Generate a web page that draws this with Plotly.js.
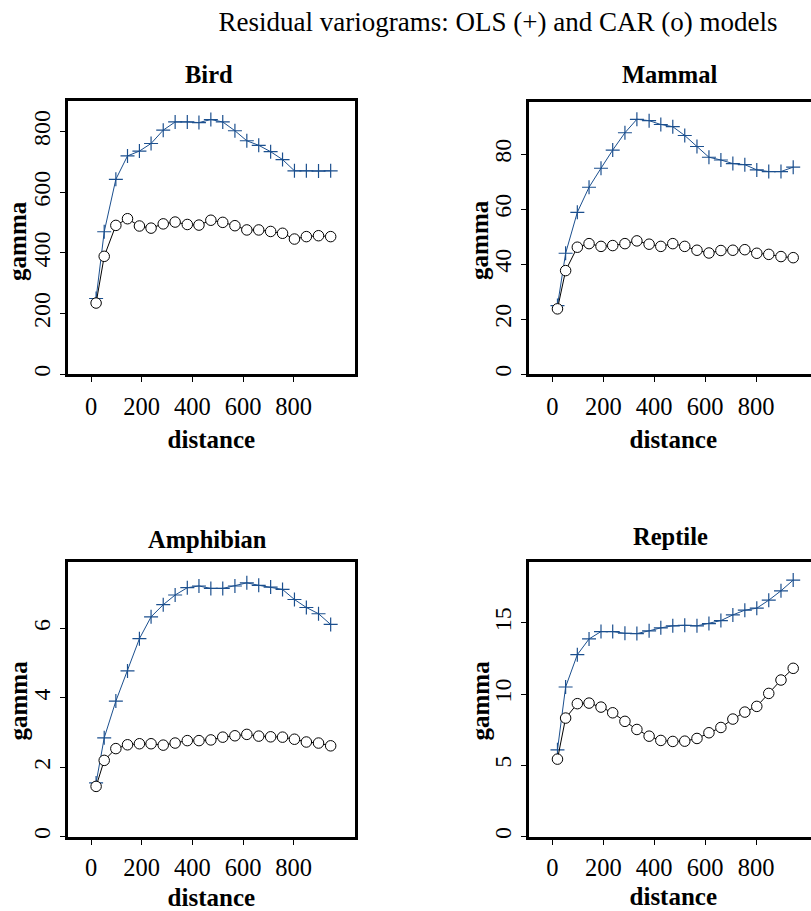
<!DOCTYPE html>
<html>
<head>
<meta charset="utf-8">
<script src="https://cdn.plot.ly/plotly-3.0.1.min.js"></script>
<style>
html,body{margin:0;padding:0;overflow:hidden;background:#fff;}
#chart{width:830px;height:911px;}
</style>
</head>
<body>
<div id="chart"></div>
<script>
// distance bins
const distance = [20, 52, 98, 144, 191, 237, 285, 332, 380, 426, 473, 520, 568, 615, 662, 709, 756, 803, 850, 898, 946];

const birdOLS = [250, 470, 643, 720, 736, 761, 805, 832, 832, 830, 840, 832, 803, 770, 755, 734, 708, 671, 671, 670, 671];
const birdCAR = [235, 389, 491, 513, 489, 482, 496, 502, 494, 492, 508, 501, 490, 476, 476, 471, 465, 446, 454, 457, 454];

const mammalOLS = [25, 44, 58.9, 68, 74.9, 81.5, 87.8, 92.7, 92.2, 90.8, 90, 86.8, 82.8, 78.9, 77.9, 76.6, 76.2, 74.3, 73.7, 73.7, 75.3];
const mammalCAR = [23.8, 37.7, 46.2, 47.5, 46.5, 46.8, 47.5, 48.5, 47.3, 46.5, 47.5, 46.5, 45.1, 44.1, 45, 45.1, 45.3, 44, 43.6, 42.8, 42.4];

const amphibianOLS = [1.55, 2.85, 3.91, 4.78, 5.71, 6.34, 6.69, 6.97, 7.18, 7.23, 7.16, 7.16, 7.23, 7.32, 7.25, 7.2, 7.13, 6.84, 6.61, 6.43, 6.12];
const amphibianCAR = [1.45, 2.2, 2.54, 2.65, 2.68, 2.68, 2.64, 2.7, 2.77, 2.77, 2.79, 2.87, 2.91, 2.95, 2.9, 2.88, 2.87, 2.81, 2.73, 2.7, 2.62];

const reptileOLS = [6.09, 10.5, 12.77, 13.87, 14.39, 14.39, 14.27, 14.25, 14.44, 14.65, 14.79, 14.83, 14.79, 14.95, 15.16, 15.56, 15.89, 16.03, 16.59, 17.25, 18.0];
const reptileCAR = [5.44, 8.32, 9.33, 9.37, 9.09, 8.69, 8.09, 7.52, 7.05, 6.75, 6.68, 6.7, 6.89, 7.29, 7.66, 8.25, 8.74, 9.14, 10.05, 10.99, 11.81];

const panelTitles = ["Bird", "Mammal", "Amphibian", "Reptile"];
const xTitle = "distance";
const yTitle = "gamma";
const xTicks = [0, 200, 400, 600, 800];
const yTicksBird = [0, 200, 400, 600, 800];
const yTicksMammal = [0, 20, 40, 60, 80];
const yTicksAmphibian = [0, 2, 4, 6];
const yTicksReptile = [0, 5, 10, 15];

const FONT = "Liberation Serif, Times New Roman, serif";
const BLUE = "#1b4f8e";

const panels = [
  {ols: birdOLS, car: birdCAR, yt: yTicksBird, yr: [0, 901], xd: [0.0816, 0.4277], yd: [0.5891, 0.8891], tls: 3, ts: 12},
  {ols: mammalOLS, car: mammalCAR, yt: yTicksMammal, yr: [0, 99.1], xd: [0.6373, 0.9851], yd: [0.5891, 0.8884], tls: 3, ts: 12},
  {ols: amphibianOLS, car: amphibianCAR, yt: yTicksAmphibian, yr: [0, 7.93], xd: [0.0816, 0.4277], yd: [0.0816, 0.3834], tls: 2, ts: 10},
  {ols: reptileOLS, car: reptileCAR, yt: yTicksReptile, yr: [0, 19.27], xd: [0.6373, 0.9851], yd: [0.0816, 0.3831], tls: 2, ts: 8}
];

const data = [];
const layout = {
  width: 830, height: 911,
  margin: {l: 0, r: 0, t: 0, b: 0},
  paper_bgcolor: "#fff", plot_bgcolor: "#fff",
  showlegend: false,
  font: {family: FONT, size: 24, color: "#000"},
  title: {text: "Residual variograms: OLS (+) and CAR (o) models", x: 0.6, xanchor: "center", y: 0.9758, yanchor: "middle", yref: "paper",
          font: {family: FONT, size: 27, color: "#000"}},
  annotations: []
};

const titleX = [0.2518, 0.8072, 0.2506, 0.8081];
const titleY = [0.9177, 0.9177, 0.4073, 0.4109];
const gammaX = [0.0217, 0.5783, 0.0217, 0.5783];
const gammaY = [0.7356, 0.7366, 0.2311, 0.2311];

panels.forEach((p, i) => {
  const n = i + 1;
  const xa = "x" + (n === 1 ? "" : n), ya = "y" + (n === 1 ? "" : n);
  data.push({x: distance, y: p.ols, xaxis: xa, yaxis: ya, type: "scatter", mode: "lines+markers",
    line: {color: BLUE, width: 1}, marker: {symbol: "cross-thin-open", size: 10, color: BLUE, line: {color: BLUE, width: 1.2}},
    name: "OLS"});
  data.push({x: distance, y: p.car, xaxis: xa, yaxis: ya, type: "scatter", mode: "lines+markers",
    line: {color: "#000", width: 1}, marker: {symbol: "circle", size: 10.5, color: "#fff", line: {color: "#000", width: 1}},
    name: "CAR"});
  const xk = "xaxis" + (n === 1 ? "" : n), yk = "yaxis" + (n === 1 ? "" : n);
  layout[xk] = {domain: p.xd, anchor: ya, range: [-92, 1042], tickmode: "array", tickvals: xTicks,
    showgrid: false, zeroline: false, showline: true, mirror: true, linecolor: "#000", linewidth: 3,
    ticks: "outside", ticklen: 5, tickwidth: 1, tickcolor: "#000", ticklabelstandoff: p.tls,
    tickfont: {family: FONT, size: 24.5, color: "#000"},
    title: {text: "<b>" + xTitle + "</b>", font: {family: FONT, size: 25, color: "#000"}, standoff: p.ts}};
  layout[yk] = {domain: p.yd, anchor: xa, range: p.yr, tickmode: "array", tickvals: p.yt,
    showgrid: false, zeroline: false, showline: true, mirror: true, linecolor: "#000", linewidth: 3,
    ticks: "outside", ticklen: 5, tickwidth: 1, tickcolor: "#000", tickangle: -90,
    tickfont: {family: FONT, size: 24, color: "#000"}};
  layout.annotations.push({text: "<b>" + panelTitles[i] + "</b>", xref: "paper", yref: "paper",
    x: titleX[i], y: titleY[i], xanchor: "center", yanchor: "middle", showarrow: false,
    font: {family: FONT, size: 24.5, color: "#000"}});
  layout.annotations.push({text: "<b>" + yTitle + "</b>", xref: "paper", yref: "paper", textangle: -90,
    x: gammaX[i], y: gammaY[i], xanchor: "center", yanchor: "middle", showarrow: false,
    font: {family: FONT, size: 25, color: "#000"}});
});

Plotly.newPlot("chart", data, layout, {displayModeBar: false, staticPlot: true});
</script>
</body>
</html>
